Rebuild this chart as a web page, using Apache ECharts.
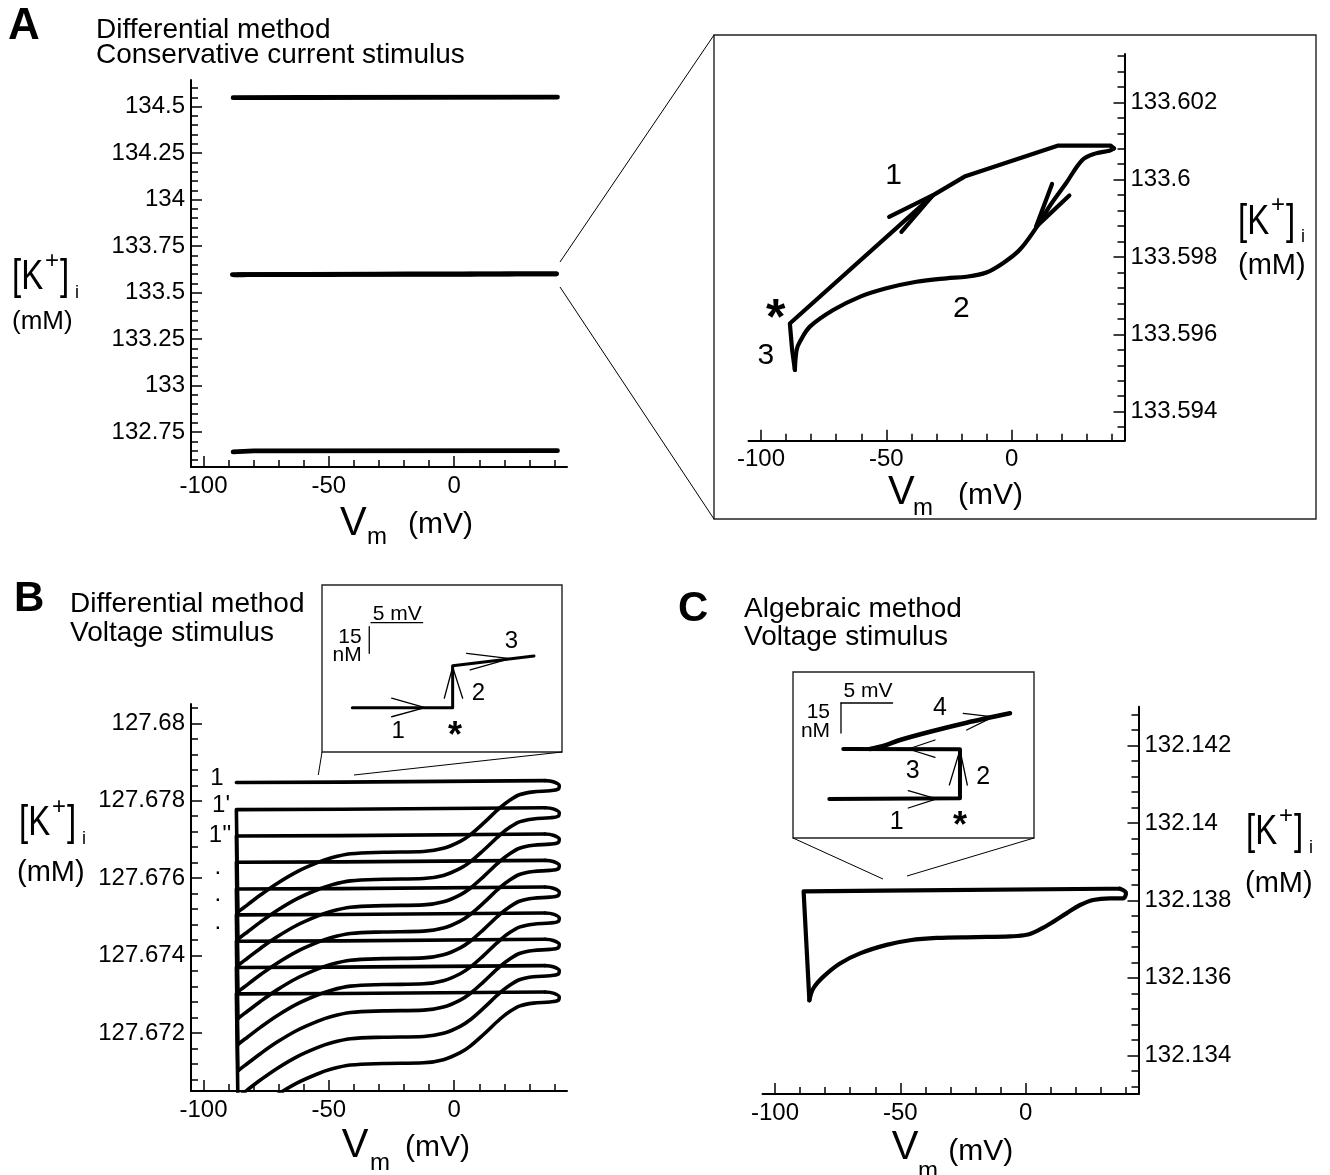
<!DOCTYPE html>
<html><head><meta charset="utf-8">
<script src="https://cdn.jsdelivr.net/npm/echarts@6/dist/echarts.min.js"></script>
<style>html,body{margin:0;padding:0;background:#fff}#c{width:1330px;height:1175px}</style>
</head><body><div id="c"></div><script>
// ---------------- data ----------------
const xMajorTicks = [-100, -50, 0];
const aLeftYTicks = [132.75, 133, 133.25, 133.5, 133.75, 134, 134.25, 134.5];
const aZoomYTicks = [133.594, 133.596, 133.598, 133.6, 133.602];
const bYTicks = [127.672, 127.674, 127.676, 127.678, 127.68];
const cYTicks = [132.134, 132.136, 132.138, 132.14, 132.142];

// Panel A (left): three nearly flat runs (middle one = loop shown in the zoom)
const aTopRun = [[-88.2, 134.548], [-60, 134.549], [41.2, 134.551]];
const aBottomRun = [[-88.2, 132.643], [-80, 132.649], [41.2, 132.650]];
// Panel A zoom loop: straight part (3, *, 1) and curved return (2)
const aLoopStraight = [[-86.5,133.59508],[-87.6,133.5956],[-88.5,133.59628],[-31.3,133.5996],[-18.8,133.60008],[18.3,133.60088],[39.5,133.60088],[40.8,133.60081]];
const aLoopCurve = [[40.8,133.60081],[39.0,133.60075],[33.6,133.60068],[28.2,133.60051],[21.6,133.5999],[15.0,133.5993],[9.6,133.59874],[3.1,133.59818],[-3.5,133.59784],[-10.1,133.5976],[-18.0,133.59749],[-26.0,133.59745],[-38.0,133.59736],[-50.0,133.59719],[-60.6,133.59697],[-71.2,133.59663],[-80.5,133.5962],[-84.5,133.59581],[-85.8,133.5956],[-86.5,133.59508]];
const aArrowUp = [[-48.9,133.59904],[-31.4,133.5996],[-44.0,133.59865]];
const aArrowDown = [[16.1,133.59989],[9.7,133.59878],[23.0,133.59959]];

// Panel B: level of each flat run, and the shape of each run (flat part + return branch)
const bRunLevels = [127.67852, 127.67782, 127.67714, 127.67646, 127.67577, 127.6751, 127.67442, 127.67374, 127.67306];
const bFlatX = [-86.9, -45, -44.5, 36.2];
const bFlatDrop = [0.00005, 0.00004, 0.00002, 0];
const bReturnX = [36.2, 39.5, 41.9, 41.5, 38.2, 31.6, 26.3, 22.3, 18.3, 11.7, 6.4, 2.4, -4.3, -12.2, -28.1, -41.4, -49.3, -54.6, -62.6, -70.5, -77.2, -82.5, -85.2, -86.3];
const bReturnDrop = [0, 0.00003, 0.00013, 0.00022, 0.00026, 0.00029, 0.00036, 0.0005, 0.0007, 0.0011, 0.0014, 0.00157, 0.00175, 0.00183, 0.00185, 0.00189, 0.002, 0.00212, 0.00235, 0.00265, 0.00295, 0.00321, 0.00334, 0.0034];

// Panel C loop
const cLoopStraight = [[-86.3,132.13542],[-88.6,132.13823],[-56.7,132.13825],[32.8,132.1383],[37.6,132.1383]];
const cLoopCurve = [[37.6,132.1383],[40.0,132.13819],[38.9,132.13805],[33.6,132.13805],[26.9,132.13801],[21.7,132.13788],[16.4,132.13767],[11.1,132.13745],[5.7,132.13725],[0.4,132.13711],[-6.3,132.13707],[-19.6,132.13705],[-35.5,132.13703],[-46.2,132.13697],[-55.5,132.13685],[-66.1,132.13663],[-74.1,132.13637],[-80.7,132.13603],[-84.7,132.13573],[-86.3,132.13542]];

// Insets (relative units: mV horizontally, nM vertically)
const bInsetPath = [[2.94,24.9],[12.66,24.9],[12.66,48.5],[20.54,53.9]];
const bScaleH = [[4.75,72.64],[9.75,72.64]];
const bScaleV = [[4.58,70.4],[4.58,55.4]];
const bInsetArrows = [
  [[6.75,30.2],[9.98,24.9],[6.75,19.8]],
  [[11.85,30.2],[12.66,47.75],[13.63,30.2]],
  [[14.02,55.45],[18.22,52.4],[14.36,46.07]]
];
const cInsetPath = [[3.52,19.5],[16.18,19.85],[16.18,44.4],[4.87,44.5]];
const cInsetBranch4 = [[7.46,44.5],[8.91,46.25],[10.37,49.0],[13.28,53.15],[16.83,57.65],[21.03,62.35]];
const cScaleH = [[4.65,67.5],[9.65,67.5]];
const cScaleV = [[4.65,67.5],[4.65,52.5]];
const cInsetArrows = [
  [[11.17,23.65],[13.92,19.6],[11.17,15.0]],
  [[15.15,26.5],[16.18,44.0],[16.89,26.5]],
  [[13.76,49.0],[11.17,44.5],[13.76,40.35]],
  [[16.5,62.35],[19.41,60.55],[16.83,54.0]]
];

// Annotation texts: [x, y, text, fontSize, weight, align, dy]
const aZoomNotes = [[-47.1,133.60011,'1',30],[-20.1,133.59667,'2',30],[-98.1,133.59545,'3',30],[-94.1,133.59663,'*',50,'bold','center',10]];
const bNotes = [[-94.7,127.67859,'1',24],[-93.0,127.67787,"1'",24],[-93.4,127.6771,"1''",24],[-94.3,127.6761,'.',24,'normal','center',-7],[-94.3,127.6754,'.',24,'normal','center',-7],[-94.3,127.67467,'.',24,'normal','center',-7]];
const bInsetNotes = [[7.39,11.4,'1',24],[12.9,12.4,'*',36,'bold','center',7],[15.15,33,'2',24],[18.36,62.1,'3',24],[7.29,77.4,'5 mV',21],[3.85,64.3,'15',21,'normal','right'],[3.85,54.5,'nM',21,'normal','right']];
const cInsetNotes = [[10.05,8.15,'1',25],[16.18,9,'*',36,'bold','center',7],[18.44,30.65,'2',25],[11.6,33.5,'3',25],[14.24,65,'4',25],[7.27,73.5,'5 mV',21],[3.59,62.75,'15',21,'normal','right'],[3.59,53.6,'nM',21,'normal','right']];

// ---------------- chart ----------------
const FF = '"Liberation Sans", Arial, Helvetica, sans-serif';
const fmt = v => String(parseFloat(Number(v).toFixed(6)));
function stepTicks(lo, hi, step, exclude) {
  const out = []; const n = Math.round((hi - lo) / step);
  for (let i = 0; i <= n; i++) { const v = +(lo + i * step).toFixed(6); if (!exclude.some(e => Math.abs(e - v) < step / 10)) out.push(v); }
  return out;
}
const xMinor = stepTicks(-100, 40, 10, xMajorTicks);
const grids = [
  {left:191, top:80, width:376, height:387},
  {left:748.5, top:54, width:376, height:386.7},
  {left:191, top:704, width:376, height:387},
  {left:762.5, top:706.7, width:376, height:387.3},
  {left:322, top:585, width:240, height:167},
  {left:793, top:672, width:241, height:166}
].map(g => Object.assign({outerBoundsMode:'none', containLabel:false}, g));

const yCfg = [
  {min:132.562, max:134.643, major:aLeftYTicks, minor:stepTicks(132.6, 134.6, 0.05, aLeftYTicks), pos:'left'},
  {min:133.59325, max:133.60325, major:aZoomYTicks, minor:stepTicks(133.5936, 133.6032, 0.0004, aZoomYTicks), pos:'right'},
  {min:127.6705, max:127.6805, major:bYTicks, minor:stepTicks(127.6708, 127.6804, 0.0004, bYTicks), pos:'left'},
  {min:132.133, max:132.143, major:cYTicks, minor:stepTicks(132.1332, 132.1428, 0.0004, cYTicks), pos:'right'}
];
const tickStyle = {color:'#000', width:1.5};
const xAxes = [], yAxes = [];
for (let g = 0; g < 4; g++) {
  xAxes.push({type:'value', gridIndex:g, min:-105, max:45, position:'bottom',
    axisLine:{show:true, onZero:false, lineStyle:{color:'#000', width:2}},
    axisTick:{show:true, inside:true, length:11, lineStyle:tickStyle, customValues:xMajorTicks},
    axisLabel:{show:true, customValues:xMajorTicks, color:'#000', fontSize:24, fontFamily:FF, margin:7, formatter:fmt},
    splitLine:{show:false}});
  xAxes.push({type:'value', gridIndex:g, min:-105, max:45, position:'bottom',
    axisLine:{show:false, onZero:false}, axisTick:{show:true, inside:true, length:7, lineStyle:tickStyle, customValues:xMinor},
    axisLabel:{show:false}, splitLine:{show:false}});
  const c = yCfg[g];
  yAxes.push({type:'value', gridIndex:g, min:c.min, max:c.max, position:c.pos,
    axisLine:{show:true, onZero:false, lineStyle:{color:'#000', width:2}},
    axisTick:{show:true, inside:true, length:11, lineStyle:tickStyle, customValues:c.major},
    axisLabel:{show:true, customValues:c.major, color:'#000', fontSize:24, fontFamily:FF, margin:6, formatter:fmt},
    splitLine:{show:false}});
  yAxes.push({type:'value', gridIndex:g, min:c.min, max:c.max, position:c.pos,
    axisLine:{show:false, onZero:false}, axisTick:{show:true, inside:true, length:7, lineStyle:tickStyle, customValues:c.minor},
    axisLabel:{show:false}, splitLine:{show:false}});
}
// inset axes (hidden)
xAxes.push({type:'value', gridIndex:4, min:0, max:23.256, show:false});
yAxes.push({type:'value', gridIndex:4, min:0, max:93.8, show:false});
xAxes.push({type:'value', gridIndex:5, min:0, max:23.353, show:false});
yAxes.push({type:'value', gridIndex:5, min:0, max:83, show:false});

const series = [];
function line(ai, data, w, smooth) {
  series.push({type:'line', xAxisIndex:ai, yAxisIndex:ai, data:data, symbol:'none', showSymbol:false,
    smooth: smooth || false, silent:true, clip:true, z:3,
    lineStyle:{color:'#000', width:w, cap:'round', join:'round', opacity:1}});
}
function notes(ai, items) {
  series.push({type:'scatter', xAxisIndex:ai, yAxisIndex:ai, symbolSize:0, silent:true, z:6,
    itemStyle:{color:'rgba(0,0,0,0)', opacity:1},
    label:{show:true, opacity:1},
    data: items.map(it => ({value:[it[0], it[1]], label:{show:true, position:'inside', formatter:it[2],
      fontSize:it[3] || 24, fontWeight:it[4] || 'normal', align:it[5] || 'center', offset:[0, it[6] || 0],
      color:'#000', opacity:1, fontFamily:FF}}))});
}
// A left (axes 0)
line(0, aTopRun, 4.8);
line(0, aLoopStraight, 4.8);
line(0, aLoopCurve, 4.8, 0.35);
line(0, aBottomRun, 4.8);
// A zoom (axes 2)
line(2, aLoopStraight, 4.2);
line(2, aLoopCurve, 4.2, 0.35);
line(2, aArrowUp, 4.2);
line(2, aArrowDown, 4.2);
notes(2, aZoomNotes);
// B (axes 4)
bRunLevels.forEach((H, k) => {
  const flat = [];
  if (k > 0) flat.push([bReturnX[bReturnX.length - 1], bRunLevels[k - 1] - bReturnDrop[bReturnDrop.length - 1]]);
  bFlatX.forEach((x, i) => flat.push([x, H - bFlatDrop[i]]));
  line(4, flat, 3.6);
  line(4, bReturnX.map((x, i) => [x, H - bReturnDrop[i]]), 3.6, 0.35);
});
notes(4, bNotes);
// C (axes 6)
line(6, cLoopStraight, 4.2);
line(6, cLoopCurve, 4.2, 0.35);
// B inset (axes 8)
line(8, bInsetPath, 3);
line(8, bScaleH, 1.3);
line(8, bScaleV, 1.3);
bInsetArrows.forEach(a => line(8, a, 1.3));
notes(8, bInsetNotes);
// C inset (axes 9)
line(9, cInsetPath, 4);
line(9, cInsetBranch4, 4.5, 0.3);
line(9, cScaleH, 1.3);
line(9, cScaleV, 1.3);
cInsetArrows.forEach(a => line(9, a, 1.3));
notes(9, cInsetNotes);

// ---------------- decorations / text ----------------
const G = [];
function txt(x, base, s, fs, o) {
  o = o || {}; const sy = o.sy || 1;
  G.push({type:'text', x:x, y:base - 0.3465 * fs * sy, scaleY:sy, silent:true, z:10,
    style:{text:s, fontSize:fs, fontFamily:FF, fill:'#000', fontWeight:o.w || 'normal', align:o.align || 'left', verticalAlign:'middle'}});
}
function ln(x1, y1, x2, y2, w) { G.push({type:'line', silent:true, z:9, shape:{x1, y1, x2, y2}, style:{stroke:'#000', lineWidth:w || 1}}); }
function box(x, y, w, h) { G.push({type:'rect', silent:true, z:9, shape:{x, y, width:w, height:h}, style:{fill:'none', stroke:'#222', lineWidth:1.4}}); }
function kTitle(x0, baseK, xM, baseM, fsM) {
  txt(x0, baseK, '[K', 33, {sy:1.28});
  G.push({type:'text', x:x0 + 33, y:baseK - 31, silent:true, z:10, style:{text:'+', fontSize:24, fontFamily:FF, fill:'#000', verticalAlign:'middle'}});
  txt(x0 + 48, baseK, ']', 33, {sy:1.28});
  txt(x0 + 63, baseK + 7, 'i', 18);
  txt(xM, baseM, '(mM)', fsM);
}
function vTitle(xV, bV, xm, bm, xP, bP) {
  txt(xV, bV, 'V', 40);
  txt(xm, bm, 'm', 24);
  txt(xP, bP, '(mV)', 30);
}
// panel letters and titles
txt(8, 42, 'A', 44, {w:'bold'});
txt(14, 614, 'B', 42, {w:'bold'});
txt(678, 624, 'C', 42, {w:'bold'});
txt(96, 39.5, 'Differential method', 28);
txt(96, 65, 'Conservative current stimulus', 28);
txt(70, 614, 'Differential method', 28);
txt(70, 643, 'Voltage stimulus', 28);
txt(744, 619, 'Algebraic method', 28);
txt(744, 647, 'Voltage stimulus', 28);
// axis titles
kTitle(12, 292, 12, 331, 26);
vTitle(340, 538, 367, 546, 408, 535.5);
kTitle(1238, 236.5, 1238, 276, 29);
vTitle(888, 506.7, 913, 517, 958, 506.3);
kTitle(19, 838, 17, 883, 29);
vTitle(341.7, 1160, 370, 1171.7, 405, 1158.6);
kTitle(1246, 847, 1245, 894, 29);
vTitle(891.7, 1161.7, 918, 1180, 948.3, 1162);
// zoom box A + connectors
box(714, 35, 602, 484);
ln(560, 262, 714, 35); ln(560, 287, 714, 519);
// inset boxes + connectors
box(322, 585, 240, 167);
ln(322, 752, 318.3, 775); ln(562, 752, 354, 775);
box(793, 672, 241, 166);
ln(793, 838, 883, 879); ln(1034, 838, 907, 876);

const chart = echarts.init(document.getElementById('c'), null, {renderer:'canvas'});
chart.setOption({
  animation:false, backgroundColor:'#fff',
  grid:grids, xAxis:xAxes, yAxis:yAxes, series:series, graphic:{elements:G}
});
</script></body></html>
